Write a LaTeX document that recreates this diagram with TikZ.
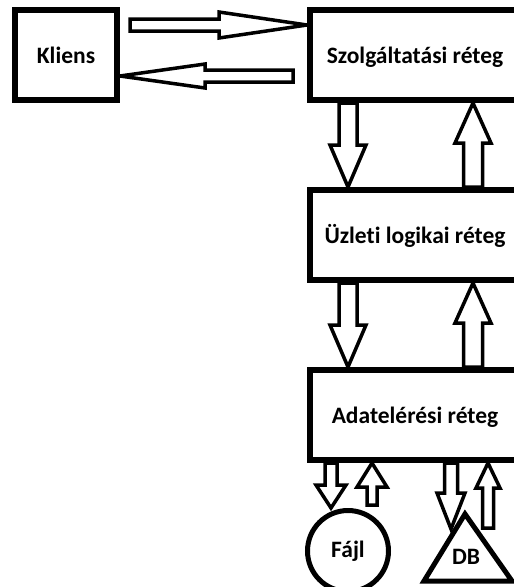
\documentclass[tikz,border=0pt]{standalone}
\usepackage{fontspec}
\setmainfont{Carlito}[Ligatures=NoCommon]
\usetikzlibrary{calc}

\begin{document}
\begin{tikzpicture}[x=1pt, y=-1pt,
        every node/.style={font=\fontsize{23.5}{28}\selectfont\bfseries},
        layer/.style={draw, line width=6pt, minimum width=210pt, minimum height=90pt,
            inner sep=0pt, text height=17pt, text depth=0pt},
        blockarrow/.style n args={3}{draw, line width=3.5pt, fill=white, miter limit=4,
            to path={let \p1=(\tikztostart), \p2=(\tikztotarget) in
                ($(\p1)!#1pt!90:(\p2)$)
                -- ($(\p2)!#3pt!(\p1)!#1pt!-90:(\p1)$)
                -- ($(\p2)!#3pt!(\p1)!#2pt!-90:(\p1)$)
                -- (\p2)
                -- ($(\p2)!#3pt!(\p1)!#2pt!90:(\p1)$)
                -- ($(\p2)!#3pt!(\p1)!#1pt!90:(\p1)$)
                -- ($(\p1)!#1pt!-90:(\p2)$) -- cycle}}]
      \useasboundingbox (0,0) rectangle (514,587);
      \clip (0,0) rectangle (514,587);
      \node[layer, minimum width=102pt] (kliens) at (66,55) {Kliens};
      \node[layer] (szolg) at (415,55) {Szolgáltatási réteg};
      \node[layer] (uzleti) at (415,235) {Üzleti logikai réteg};
      \node[layer] (adat) at (415,415) {Adatelérési réteg};
      \node[draw, circle, line width=5pt, minimum size=81pt, inner sep=0pt] (fajl) at (348,551) {Fájl};
      \node (db) at (466,557) {DB};
      \draw[line width=5pt] ($(db)+(-42,24)$) -- ($(db)+(46,24)$) -- ($(db)+(-1,-43)$) -- cycle;
      \coordinate (k1) at (130,25);
      \coordinate (s1) at (293,76);
      \draw[blockarrow={6}{13}{88}] (k1) to (szolg.west |- k1);
      \draw[blockarrow={6}{12}{85}] (s1) to (kliens.east |- s1);
      \draw[blockarrow={9}{18}{42}] (szolg.south -| 348,0) to (uzleti.north -| 348,0);
      \draw[blockarrow={9.5}{18}{40}] (uzleti.north -| 473,0) to (szolg.south -| 473,0);
      \draw[blockarrow={9}{18}{42}] (uzleti.south -| 348,0) to (adat.north -| 348,0);
      \draw[blockarrow={9.5}{18}{40}] (adat.north -| 473,0) to (uzleti.south -| 473,0);
      \coordinate (f1) at (372,505);
      \coordinate (b1) at (451,529);
      \coordinate (b2) at (488,528);
      \draw[blockarrow={6}{15}{23}] (adat.south -| 331,0) to (fajl.north -| 331,0);
      \draw[blockarrow={5}{15}{24}] (f1) to (adat.south -| f1);
      \draw[blockarrow={6.5}{14}{36}] (adat.south -| b1) to (b1);
      \draw[blockarrow={5.5}{12}{25}] (b2) to (adat.south -| b2);
    \end{tikzpicture}
\end{document}
